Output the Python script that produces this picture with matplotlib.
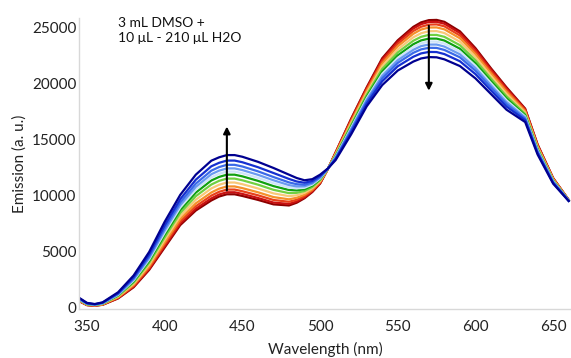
import matplotlib
matplotlib.use("Agg")
import matplotlib.pyplot as plt

wavelength = [345, 350, 355, 360, 370, 380, 390, 400, 410, 420, 430, 435, 440, 445, 450,
              460, 470, 480, 485, 490, 495, 500, 505, 510, 520, 530, 540, 550, 560, 565,
              570, 575, 580, 590, 600, 610, 620, 632, 640, 650, 660]

s00 = [600, 250, 200, 280, 850, 1850, 3400, 5400, 7400, 8700, 9600, 9950, 10150, 10150, 10000, 9650, 9250, 9150, 9400, 9800, 10350, 11100, 12400, 13900, 16900, 19700, 22300, 23900, 25100, 25500, 25700, 25720, 25550, 24700, 23200, 21400, 19700, 17800, 14600, 11600, 9650]
s01 = [620, 260, 210, 290, 880, 1900, 3480, 5520, 7540, 8860, 9780, 10130, 10330, 10330, 10180, 9820, 9410, 9290, 9510, 9880, 10410, 11140, 12400, 13870, 16830, 19620, 22180, 23770, 24950, 25340, 25540, 25550, 25380, 24550, 23070, 21290, 19600, 17740, 14560, 11580, 9650]
s02 = [640, 270, 220, 310, 920, 1980, 3590, 5680, 7720, 9080, 10030, 10370, 10570, 10570, 10420, 10060, 9640, 9480, 9660, 9990, 10490, 11200, 12410, 13820, 16730, 19500, 22010, 23580, 24730, 25110, 25300, 25320, 25150, 24330, 22880, 21120, 19460, 17660, 14490, 11540, 9640]
s03 = [660, 290, 230, 320, 960, 2060, 3720, 5860, 7940, 9340, 10310, 10650, 10850, 10850, 10700, 10330, 9900, 9700, 9840, 10120, 10580, 11260, 12410, 13760, 16620, 19360, 21820, 23360, 24480, 24860, 25040, 25050, 24880, 24080, 22660, 20940, 19300, 17560, 14420, 11500, 9630]
s04 = [690, 310, 250, 350, 1020, 2170, 3880, 6090, 8210, 9660, 10670, 11000, 11200, 11200, 11050, 10670, 10230, 9980, 10060, 10280, 10700, 11340, 12420, 13690, 16480, 19190, 21580, 23090, 24170, 24530, 24710, 24720, 24550, 23770, 22390, 20710, 19100, 17440, 14330, 11450, 9620]
s05 = [720, 330, 260, 370, 1070, 2270, 4040, 6320, 8480, 9980, 11020, 11350, 11550, 11550, 11400, 11010, 10550, 10250, 10280, 10440, 10810, 11420, 12420, 13620, 16340, 19020, 21340, 22820, 23860, 24210, 24380, 24380, 24210, 23460, 22120, 20480, 18900, 17320, 14240, 11400, 9610]
s06 = [750, 350, 280, 390, 1130, 2380, 4200, 6550, 8750, 10300, 11380, 11700, 11900, 11900, 11750, 11350, 10880, 10530, 10500, 10600, 10930, 11500, 12430, 13550, 16200, 18850, 21100, 22550, 23550, 23890, 24050, 24050, 23880, 23150, 21850, 20250, 18700, 17200, 14150, 11350, 9600]
s07 = [770, 370, 290, 410, 1170, 2460, 4330, 6730, 8970, 10560, 11660, 11980, 12180, 12180, 12030, 11620, 11140, 10750, 10680, 10730, 11020, 11560, 12430, 13490, 16090, 18710, 20910, 22330, 23300, 23630, 23790, 23780, 23610, 22900, 21630, 20070, 18540, 17100, 14080, 11310, 9590]
s08 = [800, 380, 300, 430, 1210, 2540, 4460, 6920, 9180, 10810, 11940, 12260, 12460, 12460, 12310, 11890, 11400, 10970, 10850, 10860, 11110, 11630, 12430, 13440, 15980, 18580, 20720, 22120, 23050, 23380, 23520, 23520, 23340, 22650, 21420, 19880, 18380, 17010, 14010, 11270, 9580]
s09 = [830, 400, 310, 450, 1260, 2640, 4600, 7130, 9430, 11100, 12260, 12580, 12780, 12780, 12630, 12200, 11690, 11210, 11050, 11000, 11210, 11700, 12440, 13380, 15850, 18430, 20500, 21880, 22780, 23090, 23230, 23220, 23040, 22380, 21180, 19680, 18200, 16900, 13930, 11230, 9580]
s10 = [860, 420, 330, 470, 1320, 2750, 4780, 7380, 9720, 11450, 12650, 12960, 13160, 13160, 13010, 12570, 12050, 11520, 11290, 11180, 11340, 11790, 12440, 13300, 15700, 18240, 20240, 21580, 22430, 22730, 22860, 22850, 22670, 22030, 20880, 19420, 17980, 16770, 13830, 11170, 9560]
s11 = [900, 450, 350, 500, 1400, 2900, 5000, 7700, 10100, 11900, 13150, 13450, 13650, 13650, 13500, 13050, 12500, 11900, 11600, 11400, 11500, 11900, 12450, 13200, 15500, 18000, 19900, 21200, 22000, 22280, 22400, 22380, 22200, 21600, 20500, 19100, 17700, 16600, 13700, 11100, 9550]

series = [s00, s01, s02, s03, s04, s05, s06, s07, s08, s09, s10, s11]
colors = ['#8B0000', '#C81010', '#E8401A', '#F5902A', '#F8C878', '#70D040',
          '#10A010', '#D0E4F8', '#6A9BF0', '#3A6AE8', '#1530D0', '#000090']

yticks = [0, 5000, 10000, 15000, 20000, 25000]
xticks = [350, 400, 450, 500, 550, 600, 650]

plt.rcParams['font.family'] = ['Lato', 'DejaVu Sans']

fig = plt.figure(figsize=(5.71, 3.58), dpi=100)
ax = fig.add_axes([0.1384, 0.137, 0.8616, 0.813])

for s, c in zip(series, colors):
    ax.plot(wavelength, s, color=c, lw=1.6, solid_joinstyle='round')

ax.annotate('', xy=(440, 16200), xytext=(440, 10500),
            arrowprops=dict(arrowstyle='-|>', color='black', lw=1.5, mutation_scale=10,
                            shrinkA=0, shrinkB=0))
ax.annotate('', xy=(570, 19400), xytext=(570, 25200),
            arrowprops=dict(arrowstyle='-|>', color='black', lw=1.5, mutation_scale=10,
                            shrinkA=0, shrinkB=0))

ax.text(370, 25950, '3 mL DMSO +\n10 \u03bcL - 210 \u03bcL H2O', fontsize=10,
        va='top', ha='left', color='#111111', linespacing=1.3)

ax.set_xlim(344.85, 661.5)
ax.set_ylim(-90, 25900)
ax.set_xticks(xticks)
ax.set_yticks(yticks)
ax.tick_params(length=0, labelsize=11, colors='#222222')
ax.tick_params(axis='x', pad=8)
ax.tick_params(axis='y', pad=2)
for side in ['top', 'right']:
    ax.spines[side].set_visible(False)
for side in ['left', 'bottom']:
    ax.spines[side].set_color('#D8D8D8')
    ax.spines[side].set_linewidth(1.0)

ax.set_xlabel('Wavelength (nm)', fontsize=11, color='#222222', labelpad=5.5)
ax.set_ylabel('Emission (a. u.)', fontsize=11, color='#222222', labelpad=3.5)

fig.savefig('out.png', dpi=100)
